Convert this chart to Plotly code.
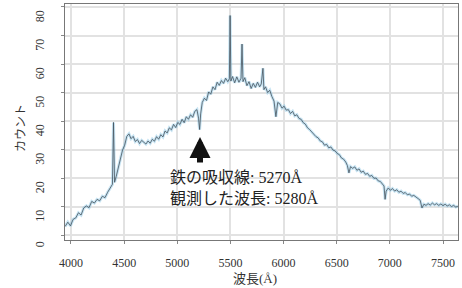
import plotly.graph_objects as go

# wavelength (Angstrom) and counts
wavelength = [
    3945, 3970, 3995, 4020, 4045, 4070, 4095, 4120, 4145, 4170, 4195, 4220, 4245, 4270, 4295, 4320,
    4345, 4370, 4390, 4400, 4410, 4425, 4445, 4465, 4485, 4505, 4525, 4545, 4565, 4585, 4605, 4625,
    4645, 4665, 4685, 4705, 4725, 4745, 4765, 4785, 4805, 4825, 4845, 4865, 4885, 4905, 4925, 4945,
    4965, 4985, 5005, 5025, 5045, 5065, 5085, 5105, 5125, 5145, 5165, 5185, 5200, 5210, 5220, 5235,
    5255, 5275, 5295, 5315, 5335, 5355, 5375, 5395, 5415, 5435, 5455, 5475, 5490, 5497, 5504, 5520,
    5540, 5560, 5580, 5600, 5609, 5618, 5635, 5655, 5675, 5695, 5715, 5735, 5755, 5775, 5790, 5806,
    5815, 5830, 5850, 5870, 5890, 5910, 5928, 5945, 5965, 5985, 6005, 6025, 6045, 6065, 6085, 6105,
    6125, 6145, 6165, 6185, 6205, 6225, 6245, 6265, 6285, 6305, 6325, 6345, 6365, 6385, 6405, 6425,
    6445, 6465, 6485, 6505, 6525, 6545, 6565, 6585, 6600, 6615, 6630, 6650, 6670, 6690, 6710, 6730,
    6750, 6770, 6790, 6810, 6830, 6850, 6870, 6890, 6910, 6930, 6945, 6955, 6965, 6985, 7005, 7025,
    7045, 7065, 7085, 7105, 7125, 7145, 7165, 7185, 7205, 7225, 7245, 7265, 7285, 7302, 7320, 7340,
    7360, 7380, 7400, 7420, 7440, 7460, 7480, 7500, 7520, 7540, 7560, 7580, 7600, 7620, 7640,
]
counts = [
    3.0, 4.5, 3.2, 5.5, 6.0, 7.8, 7.0, 9.5, 10.2, 9.6, 11.8, 11.2, 12.5, 12.0, 13.6, 13.1,
    15.0, 16.5, 17.8, 39.5, 18.5, 20.5, 24.0, 26.5, 29.8, 31.5, 34.6, 35.5, 33.8, 34.6, 32.8, 33.5,
    32.1, 33.2, 32.4, 31.9, 33.0, 32.2, 33.6, 32.9, 34.5, 33.6, 35.2, 34.4, 36.5, 35.8, 37.6, 36.9,
    38.8, 37.7, 39.5, 38.8, 40.6, 39.4, 41.5, 40.6, 42.2, 41.3, 43.4, 44.0, 41.0, 37.0, 42.5, 46.5,
    48.0, 47.2, 50.2, 49.4, 52.0, 51.0, 53.6, 52.5, 54.2, 53.2, 55.0, 53.8, 54.8, 77.0, 54.0, 55.6,
    53.4, 55.5, 53.6, 55.0, 67.0, 53.8, 55.2, 52.4, 53.8, 51.4, 53.2, 51.8, 53.6, 52.0, 53.0, 58.5,
    51.0, 52.0, 50.0, 50.8, 48.6, 47.0, 41.5, 46.5, 46.0, 44.5, 45.2, 43.8, 44.0, 42.6, 43.4, 41.8,
    42.2, 40.9, 40.6, 39.4, 38.9, 37.6, 37.0, 36.1, 35.6, 34.5, 34.1, 33.0, 32.7, 31.5, 31.8, 30.6,
    30.9, 29.8, 29.5, 28.6, 28.2, 27.0, 26.6, 25.6, 24.4, 21.8, 24.0, 23.4, 23.9, 22.7, 23.2, 22.0,
    22.4, 21.3, 21.6, 20.6, 20.9, 19.9, 20.0, 19.0, 18.8, 17.9, 17.2, 12.5, 15.4, 16.5, 15.7, 16.3,
    15.4, 15.9, 15.0, 15.4, 14.6, 14.9, 14.1, 14.4, 13.6, 13.9, 13.2, 12.8, 12.2, 9.5, 10.8, 10.4,
    11.0, 10.5, 11.2, 10.6, 11.0, 10.4, 10.9, 10.3, 10.8, 10.2, 10.6, 10.0, 10.4, 9.8, 10.1,
]
x_ticks = [4000, 4500, 5000, 5500, 6000, 6500, 7000, 7500]
y_ticks = [0, 10, 20, 30, 40, 50, 60, 70, 80]

x_title = "波長(Å)"
y_title = "カウント"
note = "鉄の吸収線: 5270Å<br>観測した波長: 5280Å"

fig = go.Figure()
fig.add_trace(go.Scatter(x=wavelength, y=counts, mode="lines",
                         line=dict(color="rgba(130,195,228,0.45)", width=3),
                         hoverinfo="skip", showlegend=False))
fig.add_trace(go.Scatter(x=wavelength, y=counts, mode="lines",
                         line=dict(color="#46535d", width=0.8),
                         showlegend=False))

serif = "Liberation Serif, Noto Sans CJK JP, serif"
fig.update_layout(
    width=462, height=288,
    margin=dict(l=65, r=4, t=4, b=48),
    paper_bgcolor="white", plot_bgcolor="white",
    font=dict(family=serif, size=12, color="#333"),
    xaxis=dict(range=[3943.6, 7641], tickvals=x_ticks, showgrid=True, automargin=False,
               gridcolor="#e2e2e2", gridwidth=1.5, zeroline=False,
               showline=True, linecolor="#777", linewidth=1, mirror=True,
               ticks="outside", ticklen=3, tickcolor="#888",
               ticklabelstandoff=9,
               tickfont=dict(family=serif, size=12, color="#333")),
    yaxis=dict(range=[-1.75, 81.05], tickvals=y_ticks, showgrid=True, automargin=False,
               gridcolor="#e2e2e2", gridwidth=1.5, zeroline=False,
               showline=True, linecolor="#777", linewidth=1, mirror=True,
               ticks="outside", ticklen=3, tickcolor="#888",
               tickangle=-90, ticklabelstandoff=12, ticklabelshift=11,
               tickfont=dict(family=serif, size=12, color="#333")),
    annotations=[
        dict(xref="paper", yref="paper", x=(255 - 65) / 393, y=-(278 - 240) / 236,
             text=x_title, showarrow=False, xanchor="center", yanchor="middle",
             font=dict(family=serif, size=13, color="#333")),
        dict(xref="paper", yref="paper", x=-(65 - 20) / 393, y=(240 - 128) / 236,
             text=y_title, showarrow=False, textangle=-90, xanchor="center", yanchor="middle",
             font=dict(family="Noto Sans CJK JP", size=12, color="#333")),
        dict(xref="paper", yref="paper", x=(200 - 65) / 393, y=(240 - 137) / 236,
             ax=0, ay=27, text="", showarrow=True, arrowhead=2, arrowsize=0.7,
             arrowwidth=6, arrowcolor="#111"),
        dict(xref="paper", yref="paper", x=(168 - 65) / 393, y=(240 - 167) / 236,
             text=note, showarrow=False, xanchor="left", yanchor="top", align="left",
             font=dict(family=serif, size=16, color="#222")),
    ],
)
fig.write_html("out.html", config={"displayModeBar": False},
               post_script="document.body.style.margin='0';document.body.style.overflow='hidden';")
